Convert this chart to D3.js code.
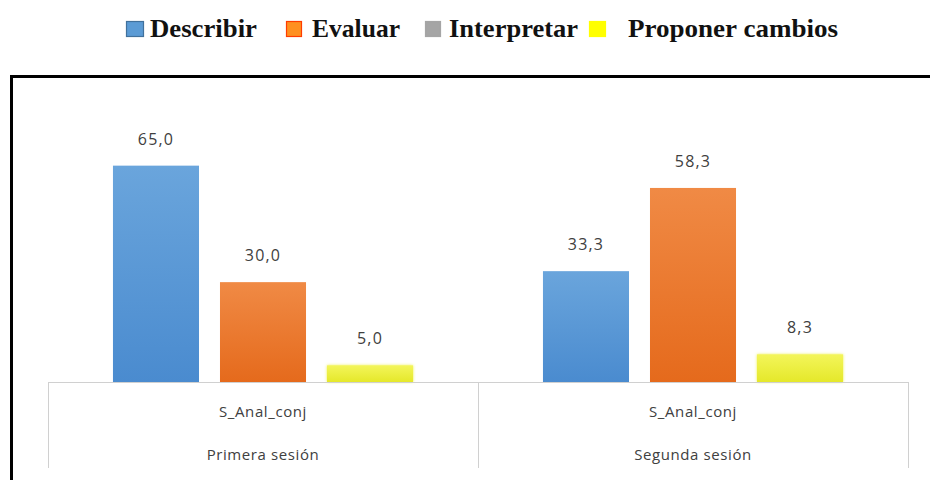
<!DOCTYPE html>
<html>
<head>
<meta charset="utf-8">
<script src="https://cdn.jsdelivr.net/npm/d3@7"></script>
<style>
  html, body { margin: 0; padding: 0; background: #fff; }
  svg { display: block; }
</style>
</head>
<body>
<svg id="chart" width="930" height="480"></svg>
<script>
// Sessions (outer categories) and the indicator shown under each group
const sessions = ["Primera sesión", "Segunda sesión"];
const indicator = "S_Anal_conj";

// Series shown in the legend
const seriesNames = ["Describir", "Evaluar", "Interpretar", "Proponer cambios"];
const seriesColors = ["#5b9bd5", "#ff9020", "#a5a5a5", "#ffff00"];
const seriesStroke = ["#41719c", "#ff3d00", "#a5a5a5", "#ffff00"];

// Percentages per series, one value per session (null = no bar)
const describir = [65.0, 33.3];
const evaluar = [30.0, 58.3];
const interpretar = [null, null];
const proponer = [5.0, 8.3];

const seriesValues = [describir, evaluar, interpretar, proponer];

const svg = d3.select("#chart");
const fmt = v => d3.format(".1f")(v).replace(".", ",");

// Outer frame
svg.append("rect")
  .attr("x", 11.5).attr("y", 76.5)
  .attr("width", 940).attr("height", 430)
  .attr("fill", "#fff")
  .attr("stroke", "#000").attr("stroke-width", 3);

// Gradients for bars
const defs = svg.append("defs");
const barFills = [
  ["#6aa5dc", "#4a8bcf"],
  ["#f08a45", "#e56a1c"],
  ["#b0b0b0", "#999"],
  ["#f3f55a", "#e5e82a"]
];
barFills.forEach((c, i) => {
  const g = defs.append("linearGradient").attr("id", "g" + i)
    .attr("x1", 0).attr("y1", 0).attr("x2", 0).attr("y2", 1);
  g.append("stop").attr("offset", "0%").attr("stop-color", c[0]);
  g.append("stop").attr("offset", "100%").attr("stop-color", c[1]);
});
defs.append("filter").attr("id", "soft")
  .attr("x", "-20%").attr("y", "-20%").attr("width", "140%").attr("height", "140%")
  .append("feGaussianBlur").attr("stdDeviation", 1.6);

// Scales
const x0 = d3.scaleBand().domain(sessions).range([48, 908]).padding(0);
const drawn = seriesNames.filter((s, i) => seriesValues[i].some(v => v != null));
const x1 = d3.scaleBand().domain(drawn).range([0, x0.bandwidth()])
  .paddingInner(0.196).paddingOuter(0.607);
const y = d3.scaleLinear().domain([0, 70]).range([382, 149]);

// Legend
const legend = svg.append("g").attr("class", "legend");
const legendX = [126, 286, 425, 589];
const legendW = [17, 15, 15, 16];
const legendTextX = [150, 312, 449, 628];
const legendTextW = [107, 88, 129, 210];
seriesNames.forEach((name, i) => {
  legend.append("rect")
    .attr("x", legendX[i] + 0.5).attr("y", 21.5)
    .attr("width", legendW[i]).attr("height", 15)
    .attr("fill", seriesColors[i])
    .attr("stroke", seriesStroke[i]).attr("stroke-width", 1.2);
  legend.append("text")
    .attr("x", legendTextX[i]).attr("y", 37)
    .attr("font-family", "'Liberation Serif', serif")
    .attr("font-weight", "bold")
    .attr("font-size", 25)
    .attr("textLength", legendTextW[i])
    .attr("lengthAdjust", "spacingAndGlyphs")
    .attr("fill", "#111")
    .text(name);
});

// Bars
const groups = svg.append("g").selectAll("g")
  .data(sessions)
  .join("g")
  .attr("transform", d => `translate(${x0(d)},0)`);

drawn.forEach(name => {
  const si = seriesNames.indexOf(name);
  groups.each(function(session, gi) {
    const v = seriesValues[si][gi];
    if (v == null) return;
    const g = d3.select(this);
    if (si === 3) {
      g.append("rect")
        .attr("x", x1(name)).attr("y", y(v))
        .attr("width", x1.bandwidth()).attr("height", y(0) - y(v))
        .attr("fill", "#eef04a").attr("filter", "url(#soft)");
    }
    g.append("rect")
      .attr("x", x1(name)).attr("y", y(v))
      .attr("width", x1.bandwidth()).attr("height", y(0) - y(v))
      .attr("fill", `url(#g${si})`);
    g.append("text")
      .attr("x", x1(name) + x1.bandwidth() / 2)
      .attr("y", y(v) - 21)
      .attr("text-anchor", "middle")
      .attr("font-family", "'Open Sans', sans-serif")
      .attr("font-size", 16)
      .attr("letter-spacing", 1.2)
      .attr("fill", "#404040")
      .text(fmt(v));
  });
});

// Category axis: baseline and group separators
const axis = svg.append("g");
axis.append("line")
  .attr("x1", x0.range()[0]).attr("x2", x0.range()[1])
  .attr("y1", y(0) + 0.5).attr("y2", y(0) + 0.5)
  .attr("stroke", "#d0d0d0");
const seps = [...sessions.map(s => x0(s)), x0.range()[1]];
axis.selectAll("line.sep").data(seps).join("line")
  .attr("class", "sep")
  .attr("x1", d => d + 0.5).attr("x2", d => d + 0.5)
  .attr("y1", y(0)).attr("y2", 468)
  .attr("stroke", "#d0d0d0");

sessions.forEach(s => {
  const cx = x0(s) + x0.bandwidth() / 2;
  axis.append("text")
    .attr("x", cx).attr("y", 417)
    .attr("text-anchor", "middle")
    .attr("font-family", "'Open Sans', sans-serif")
    .attr("font-size", 15)
    .attr("letter-spacing", 0.6)
    .attr("fill", "#404040")
    .text(indicator);
  axis.append("text")
    .attr("x", cx).attr("y", 460)
    .attr("text-anchor", "middle")
    .attr("font-family", "'Open Sans', sans-serif")
    .attr("font-size", 15)
    .attr("letter-spacing", 0.6)
    .attr("fill", "#404040")
    .text(s);
});
</script>
</body>
</html>
